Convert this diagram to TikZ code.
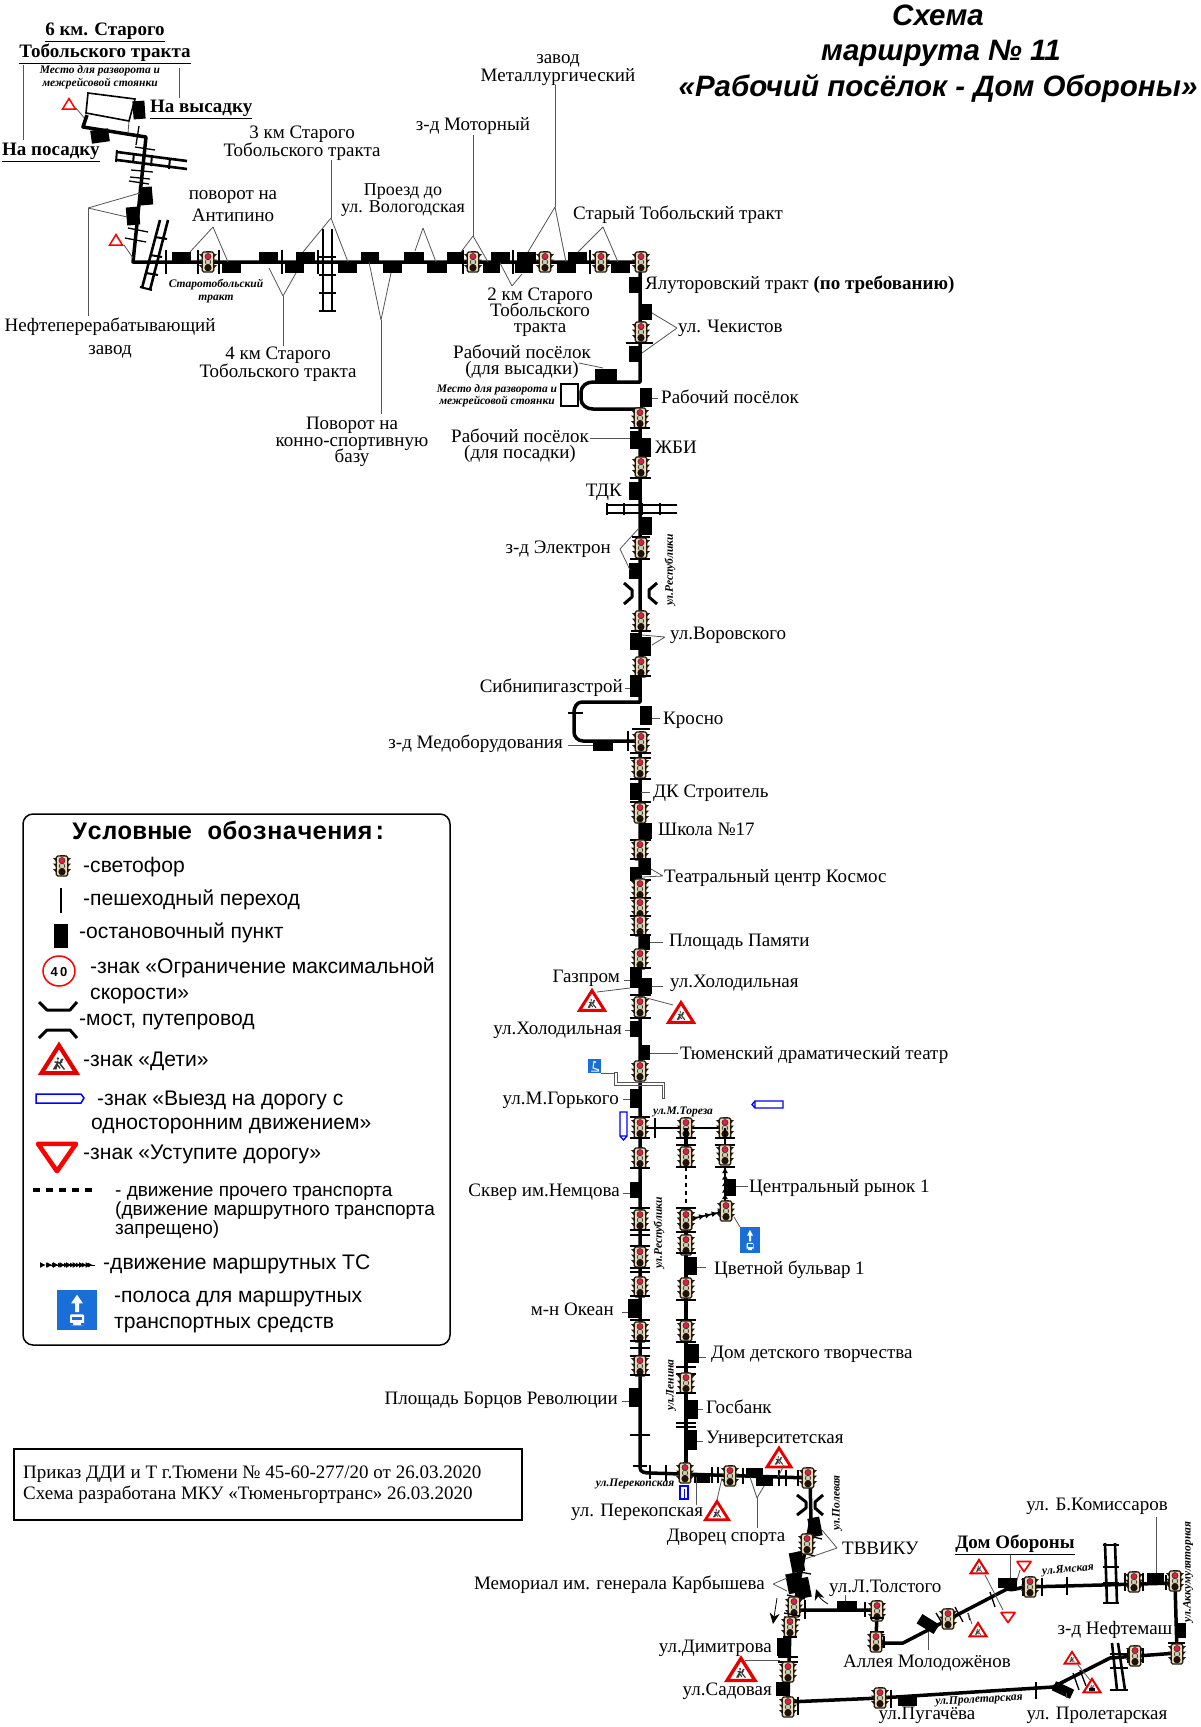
\documentclass[tikz,border=0pt]{standalone}
\usepackage{fontspec}
\setmainfont{Liberation Serif}
\setsansfont{Liberation Sans}
\setmonofont{Liberation Mono}
\usetikzlibrary{arrows.meta,decorations.markings,calc}
\definecolor{tlbody}{HTML}{E9DABA}
\definecolor{tldark}{HTML}{221A0E}
\definecolor{tlred}{HTML}{D82048}
\definecolor{tlmid}{HTML}{C4CCB4}
\definecolor{signblue}{HTML}{1A6ED8}
\definecolor{leadgray}{HTML}{555555}
\newcounter{lbl}
\newcommand\LB[5][lab]{\stepcounter{lbl}\node[#1,anchor=#2] (t\arabic{lbl}) at (#3,#4) {#5};}
\newcommand\RT[4][90]{\stepcounter{lbl}\node[smi,rotate=#1] (t\arabic{lbl}) at (#2,#3) {#4};}
\newcommand\TL[2]{\pic at (#1,#2) {tlight};}
\newcommand\ST[4]{\fill[black] (#1,#2) rectangle (#3,#4);}
\newcommand\RS[5]{\fill[black,shift={(#1,#2)},rotate=#5] (-#3/2,-#4/2) rectangle (#3/2,#4/2);}
\newcommand\HP[3]{\draw[ped] (#1,#3) -- (#2,#3);}
\newcommand\VP[3]{\draw[ped] (#1,#2) -- (#1,#3);}
\newcommand\LN[4]{\draw[lead] (#1,#2) -- (#3,#4);}
\newcommand\VEE[6]{\draw[lead] (#1,#2) -- (#3,#4) (#1,#2) -- (#5,#6);}
\newcommand\KIDS[3]{\begin{scope}[shift={(#1,#2)},scale=#3/24]
 \filldraw[fill=white,draw=red!90!black,line width=#3*0.12pt,line join=miter] (-12,9) -- (0,-10) -- (12,9) -- cycle;
 \begin{scope}[shift={(0,2)},scale=.75]
 \draw[black!80,line width=#3*0.04pt] (-5,6) -- (-2,1) -- (1,5) (-2,1) -- (-1,-2) (-4,-1) -- (0,0) -- (3,-1) (1,1) -- (5,6) (1,1) -- (2,-3) (-1,-2) -- (-3,6);
 \fill[black!80] (-1,-4) circle (1.2) (3,-3) circle (1.2);
 \end{scope}
\end{scope}}
\newcommand\YLD[3]{\draw[red,line width=#3*0.12pt,fill=white,line join=round] (#1-#3/2,#2-#3*.32) -- (#1+#3/2,#2-#3*.32) -- (#1,#2+#3*.4) -- cycle;}
\newcommand\WARN[3]{\draw[red,line width=1.5pt,fill=white] (#1-#3/2,#2+#3*.4) -- (#1+#3/2,#2+#3*.4) -- (#1,#2-#3*.42) -- cycle;}
\newcommand\BUS[4]{\begin{scope}[shift={(#1,#2)},xscale=#3,yscale=#4]
 \fill[signblue] (-20,-18) rectangle (20,18);
 \fill[white] (0,-14) -- (6,-6) -- (2,-6) -- (2,2) -- (-2,2) -- (-2,-6) -- (-6,-6) -- cycle;
 \fill[white,rounded corners=1pt] (-7,4) rectangle (7,14);
 \fill[signblue] (-5,6) rectangle (5,9.5);
 \fill[signblue] (-7,12) rectangle (-4,14) (4,12) rectangle (7,14);
\end{scope}}
\tikzset{x=1pt,y=-1pt,
 lab/.style={font=\fontsize{19}{19}\selectfont,inner sep=0pt,yshift=-3pt},
 labb/.style={font=\fontsize{19}{19}\selectfont\bfseries,inner sep=0pt,yshift=-3pt},
 smi/.style={font=\fontsize{11.5}{12}\selectfont\bfseries\itshape,inner sep=0pt},
 leg/.style={font=\sffamily\fontsize{21.1}{21}\selectfont,inner sep=0pt,yshift=-3pt},
 legs/.style={font=\sffamily\fontsize{19}{19}\selectfont,inner sep=0pt,yshift=-3pt},
 ttl/.style={font=\sffamily\fontsize{29.5}{30}\selectfont\bfseries\itshape,inner sep=0pt,yshift=-6pt},
 route/.style={line width=3.5pt,black,line join=round},
 ped/.style={line width=1.3pt,black},
 lead/.style={line width=.8pt,leadgray},
 rail/.style={line width=2.6pt,black},
 bridge/.style={line width=3pt,black,line join=round},
 busway/.style={line width=1.6pt,black,postaction={decorate},decoration={markings,mark=between positions 0 and 1 step 6.5pt with {\arrow{Latex[length=6pt,width=6pt]}}}},
 tlight/.pic={
  \fill[tldark] (-9,-8) -- (-5,-8) -- (-5,-3.5) -- cycle (9,-8) -- (5,-8) -- (5,-3.5) -- cycle
    (-9,-2.5) -- (-5,-2.5) -- (-5,2) -- cycle (9,-2.5) -- (5,-2.5) -- (5,2) -- cycle
    (-9,3) -- (-5,3) -- (-5,7.5) -- cycle (9,3) -- (5,3) -- (5,7.5) -- cycle;
  \fill[tldark] (-2.5,-11.5) rectangle (2.5,-9);
  \filldraw[fill=tlbody,draw=tldark,line width=1.2pt,rounded corners=1.5pt] (-5.7,-10) rectangle (5.7,10);
  \filldraw[fill=tlred,draw=tldark,line width=.4pt] (0,-5.5) circle (3.1);
  \filldraw[fill=tlmid,draw=tldark,line width=.5pt] (0,0) circle (2.8);
  \fill[black!85!brown] (0,5.8) circle (3.6);
 }}
\begin{document}
\begin{tikzpicture}
\useasboundingbox (0,0) rectangle (1200,1727);
\fill[white] (0,0) rectangle (1200,1727);
% ---- title
\LB[ttl]{mid}{938}{17}{Схема}
\LB[ttl]{mid}{941}{52}{маршрута № 11}
\LB[ttl]{mid}{938}{88}{«Рабочий посёлок - Дом Обороны»}
% ---- head of the route
\LB[labb]{mid}{105}{30}{\underline{6 км. Старого}}
\LB[labb]{mid}{105}{52}{\underline{Тобольского тракта}}
\LB[smi]{mid}{100}{71}{Место для разворота и}
\LB[smi]{mid}{100}{84}{межрейсовой стоянки}
\LB[labb]{mid west}{150}{107}{\underline{На высадку}}
\LB[labb]{mid west}{2}{150}{\underline{На посадку}}
\LN{23}{65}{23}{140}
\LN{179}{68}{179}{98}
\WARN{69}{104}{13}
\LN{76}{108}{86}{120}
\draw[line width=1.6pt,fill=white] (88,93) -- (135,99) -- (129,121) -- (86,113) -- cycle;
\draw[route] (87,115) -- (83,127) -- (146,137) -- (133,262) -- (640,262) -- (640,382) -- (593,382) to[out=180,in=90] (581,392) -- (581,399) to[out=270,in=180] (593,409) -- (640,409) -- (640,702) -- (582,702) to[out=180,in=90] (574,712) -- (574,732) to[out=270,in=180] (583,741) -- (640,741) -- (640,1468) to[out=270,in=180] (650,1473) -- (810,1478) -- (811,1520) -- (795,1603) -- (790,1627) -- (788,1702) -- (880,1698) -- (1053,1687) -- (1110,1658) -- (1177,1653) -- (1175,1583) -- (1027,1587) to[out=180,in=-15] (1007,1589) -- (903,1643) -- (876,1643) -- (877,1610) -- (797,1610);
\LN{129}{121}{128}{133}
\RS{100}{136}{18}{13}{8}
\RS{139}{110}{12}{18}{4}
\draw[ped] (139,126) -- (136,145);
\draw[rail] (117,152) -- (187,161) (117,160) -- (187,169);
\draw[ped,line width=2pt] (117,150) -- (116,162) (134,153) -- (133,163) (152,155) -- (151,166) (170,158) -- (169,169);
\draw[ped] (135,147) -- (155,150) (131,170) -- (153,172) (130,177) -- (150,179) (129,181) -- (149,184);
\RS{146}{196}{13}{18}{5}
\RS{133}{216}{13}{18}{5}
\draw[ped] (128,228) -- (148,232) (125,238) -- (146,242);
\WARN{116}{240}{13}
\LN{124}{245}{133}{258}
\draw[rail] (142,288) -- (160,220) (150,290) -- (168,220);
\draw[ped,line width=2pt] (140,287) -- (152,290) (146,273) -- (158,275) (150,255) -- (162,257) (155,237) -- (167,239);
\draw[rail] (323,229) -- (323,311) (332,229) -- (332,311);
\foreach \yy in {257,275,293,311}{\draw[ped,line width=2pt] (319,\yy) -- (336,\yy);}
\VP{166}{250}{274}\VP{198}{250}{274}\VP{219}{250}{274}\VP{282}{250}{274}\VP{318}{250}{274}\VP{463}{250}{274}\VP{513}{250}{274}\VP{590}{250}{274}
\ST{172}{252}{191}{262}\ST{259}{252}{278}{262}\ST{296}{252}{315}{262}\ST{361}{252}{379}{262}\ST{404}{252}{424}{262}\ST{447}{252}{463}{262}\ST{491}{252}{510}{262}\ST{517}{252}{536}{262}\ST{568}{252}{587}{262}
\ST{222}{262}{241}{273}\ST{285}{262}{304}{273}\ST{338}{262}{357}{273}\ST{383}{262}{402}{273}\ST{427}{262}{447}{273}\ST{483}{262}{500}{273}\ST{515}{262}{533}{273}\ST{557}{262}{576}{273}\ST{611}{262}{630}{273}
\TL{208}{262}\TL{473}{262}\TL{545}{262}\TL{601}{262}\TL{641}{262}
% labels on the tract
\LB{mid}{233}{194}{поворот на}\LB{mid}{233}{216}{Антипино}
\VEE{213}{227}{190}{252}{228}{262}
\LB{mid}{302}{133}{3 км Старого}\LB{mid}{302}{151}{Тобольского тракта}
\LN{331}{160}{331}{218}\VEE{331}{218}{303}{252}{348}{262}
\LB{mid}{110}{326}{Нефтеперерабатывающий}\LB{mid}{110}{349}{завод}
\LN{88}{208}{88}{316}\VEE{88}{208}{140}{193}{127}{217}
\LB{mid}{278}{354}{4 км Старого}\LB{mid}{278}{372}{Тобольского тракта}
\LN{283}{296}{283}{346}\VEE{283}{296}{269}{268}{296}{273}
\LB{mid}{352}{424}{Поворот на}\LB{mid}{352}{441}{конно-спортивную}\LB{mid}{352}{457}{базу}
\LN{381}{320}{381}{414}\VEE{381}{320}{369}{262}{391}{273}
\LB[lab,font=\fontsize{18}{18}\selectfont]{mid}{403}{190}{Проезд до}\LB[lab,font=\fontsize{18}{18}\selectfont]{mid}{403}{207}{ул. Вологодская}
\VEE{423}{228}{415}{251}{436}{262}
\LB{mid}{473}{125}{з-д Моторный}
\LN{473}{135}{473}{236}\VEE{473}{236}{461}{252}{488}{262}
\LB{mid}{558}{58}{завод}\LB{mid}{558}{76}{Металлургический}
\LN{555}{85}{555}{207}\VEE{555}{207}{528}{252}{566}{262}
\LB{mid}{678}{214}{Старый Тобольский тракт}
\VEE{603}{227}{578}{252}{618}{262}
\LB{mid}{540}{295}{2 км Старого}\LB{mid}{540}{311}{Тобольского}\LB{mid}{540}{327}{тракта}
\VEE{512}{286}{500}{263}{522}{274}
\LB[smi]{mid}{216}{285}{Старотобольский}\LB[smi]{mid}{216}{298}{тракт}
% ---- main vertical
\ST{629}{277}{640}{293}
\LB{mid west}{645}{284}{Ялуторовский тракт \textbf{(по требованию)}}
\ST{640}{304}{652}{320}\TL{641}{332}\HP{626}{653}{343}\ST{629}{346}{640}{362}
\LB{mid west}{678}{327}{ул. Чекистов}
\VEE{677}{328}{652}{313}{642}{353}
\ST{595}{369}{617}{382}
\LB{mid}{522}{353}{Рабочий посёлок}\LB{mid}{522}{369}{(для высадки)}
\LN{579}{363}{603}{368}
\draw[line width=1.1pt,fill=white] (561,384) rectangle (578,406);
\LB[smi]{mid}{497}{390}{Место для разворота и}\LB[smi]{mid}{497}{402}{межрейсовой стоянки}
\ST{640}{388}{652}{407}\LN{652}{398}{658}{398}
\LB{mid west}{661}{398}{Рабочий посёлок}
\TL{640}{418}\HP{630}{650}{428}
\ST{630}{431}{641}{449}\ST{641}{438}{651}{457}
\LB{mid}{520}{437}{Рабочий посёлок}\LB{mid}{520}{453}{(для посадки)}
\LN{590}{438}{630}{438}
\LB{mid west}{655}{448}{ЖБИ}
\TL{641}{467}\HP{630}{651}{478}\ST{629}{482}{640}{500}
\LB{mid east}{622}{491}{ТДК}
\draw[rail] (607,505) -- (677,505) (607,513) -- (677,513);
\foreach \xx in {607,624,642,660}{\draw[ped,line width=2pt] (\xx,503) -- (\xx,515);}
\ST{640}{517}{652}{535}\HP{632}{650}{537}\TL{641}{548}\HP{630}{650}{559}\ST{629}{563}{640}{579}
\LB{mid east}{611}{548}{з-д Электрон}
\VEE{620}{549}{639}{528}{630}{570}
\draw[bridge] (624,583) -- (632,590) -- (632,597) -- (624,604) (657,583) -- (649,590) -- (649,597) -- (657,604);
\RT{670}{570}{ул.Республики}
\TL{641}{621}\HP{631}{651}{631}\ST{630}{633}{642}{650}\ST{640}{637}{651}{656}
\LB{mid west}{670}{634}{ул.Воровского}
\VEE{665}{637}{642}{635}{652}{645}
\TL{641}{667}\HP{630}{651}{676}\ST{630}{677}{641}{697}
\LB{mid east}{623}{687}{Сибнипигазстрой}\LN{625}{688}{630}{688}
\HP{568}{583}{713}\VP{628}{731}{751}
\ST{640}{706}{652}{725}\LN{652}{718}{660}{718}\HP{632}{650}{729}
\LB{mid west}{663}{719}{Кросно}
\TL{641}{742}\HP{630}{651}{753}\HP{630}{651}{758}
\ST{593}{740}{613}{751}
\LB{mid east}{563}{743}{з-д Медоборудования}\LN{568}{745}{593}{745}
\TL{640}{768}\HP{630}{651}{779}\ST{630}{783}{641}{800}\LN{641}{792}{650}{792}
\LB{mid west}{653}{792}{ДК Строитель}
\HP{630}{651}{802}\TL{640}{813}\ST{640}{823}{652}{839}
\LB{mid west}{658}{830}{Школа №17}
\HP{630}{651}{840}\TL{640}{850}\HP{630}{651}{859}\ST{640}{859}{651}{875}\ST{630}{867}{641}{880}
\LB{mid west}{664}{877}{Театральный центр Космос}
\VEE{663}{876}{651}{869}{642}{877}
\HP{630}{651}{880}\TL{640}{889}\HP{630}{651}{898}\TL{640}{908}\HP{630}{651}{916}\TL{640}{926}\HP{630}{651}{935}
\ST{640}{935}{650}{950}\LN{650}{942}{663}{942}
\LB{mid west}{669}{941}{Площадь Памяти}
\TL{640}{959}\HP{630}{651}{968}\ST{630}{968}{641}{988}\ST{640}{978}{652}{994}
\LB{mid east}{620}{977}{Газпром}\LN{624}{980}{630}{980}
\LB{mid west}{670}{982}{ул.Холодильная}\LN{652}{986}{663}{986}
\KIDS{592}{1001}{25}\LN{597}{992}{630}{988}
\KIDS{681}{1013}{25}\LN{673}{1005}{643}{997}
\HP{630}{651}{995}\TL{640}{1007}\HP{630}{651}{1018}\ST{630}{1021}{641}{1037}
\LB{mid east}{622}{1029}{ул.Холодильная}\LN{625}{1030}{630}{1030}
\ST{640}{1045}{650}{1060}\LN{650}{1053}{678}{1053}
\LB{mid west}{680}{1054}{Тюменский драматический театр}
\TL{640}{1071}
\fill[signblue] (588,1059) rectangle (601,1073);
\draw[white,line width=1pt] (594,1061) -- (593,1068) -- (599,1070) (591,1071) -- (599,1071);
\fill[white] (595,1062) circle (1.2);
\LN{601}{1073}{614}{1073}
\draw[leadgray,line width=.7pt] (614,1072) -- (617,1072) -- (617,1082) -- (664,1082) -- (664,1098) -- (662,1098) -- (662,1085) -- (614,1085) -- cycle;
\ST{630}{1089}{641}{1108}\LN{623}{1099}{630}{1099}
\LB{mid east}{619}{1099}{ул.М.Горького}
% ---- crossing M.Toreza
\draw[route,line width=2.4pt] (640,1128) -- (725,1128);
\VP{655}{1118}{1138}\HP{630}{650}{1117}
\draw[blue,line width=1.3pt,fill=white] (620,1112) rectangle (627,1136) (620,1136) -- (623.5,1140) -- (627,1136);
\LB[smi]{mid}{683}{1112}{ул.М.Тореза}
\draw[blue,line width=1.3pt,fill=white] (783,1101) rectangle (755,1108) (755,1101) -- (752,1104.5) -- (755,1108);
\TL{640}{1128}\TL{686}{1128}\TL{725}{1128}
\HP{630}{650}{1138}\TL{640}{1158}\HP{630}{650}{1168}
\ST{630}{1182}{641}{1198}\LN{623}{1193}{630}{1193}
\LB{mid east}{620}{1191}{Сквер им.Немцова}
\HP{630}{650}{1208}\TL{640}{1220}\HP{630}{650}{1230}\HP{630}{650}{1235}\HP{630}{650}{1246}\TL{640}{1257}\HP{630}{650}{1268}\HP{630}{650}{1272}\TL{640}{1287}\HP{630}{650}{1296}
\ST{628}{1299}{641}{1318}\LN{622}{1312}{628}{1312}
\LB{mid east}{614}{1310}{м-н Океан}
\HP{630}{650}{1320}\TL{640}{1332}\HP{630}{650}{1341}\HP{630}{650}{1348}\HP{630}{650}{1356}\TL{640}{1366}\HP{630}{650}{1375}
\ST{629}{1388}{641}{1407}\LN{622}{1401}{629}{1401}
\LB{mid east}{618}{1399}{Площадь Борцов Революции}
\HP{630}{650}{1435}\HP{633}{647}{1466}
\RT{659}{1233}{ул.Республики}
% ---- Lenina
\draw[route] (686,1128) -- (686,1167);
\draw[line width=2.4pt,dash pattern=on 4pt off 4pt] (686,1167) -- (686,1210);
\draw[route] (686,1210) -- (686,1475);
\HP{676}{696}{1138}\HP{676}{696}{1145}\TL{686}{1157}\HP{676}{696}{1167}\HP{676}{696}{1208}\TL{686}{1220}\HP{676}{696}{1232}\TL{686}{1245}\HP{676}{696}{1253}
\ST{685}{1257}{697}{1275}\LN{697}{1267}{706}{1267}
\LB{mid west}{714}{1269}{Цветной бульвар 1}
\TL{686}{1288}\HP{676}{696}{1300}\HP{676}{696}{1320}\TL{686}{1331}\HP{676}{696}{1342}
\ST{685}{1344}{699}{1363}\LN{699}{1357}{706}{1357}
\LB{mid west}{711}{1353}{Дом детского творчества}
\HP{676}{696}{1367}\HP{676}{696}{1374}\TL{686}{1383}\HP{676}{696}{1393}
\ST{685}{1400}{698}{1419}\LN{698}{1409}{703}{1409}
\LB{mid west}{706}{1408}{Госбанк}
\HP{676}{696}{1423}\HP{676}{696}{1427}
\ST{685}{1430}{697}{1450}\LN{697}{1441}{703}{1441}
\LB{mid west}{706}{1438}{Университетская}
\RT{671}{1385}{ул.Ленина}
% ---- third column
\draw[route,line width=2.4pt] (725,1128) -- (725,1155);
\HP{715}{735}{1138}\HP{715}{735}{1145}\TL{725}{1155}\HP{715}{735}{1167}
\ST{725}{1179}{736}{1196}\LN{736}{1186}{748}{1186}
\draw[busway] (725,1206) -- (725,1167);
\draw[busway] (686,1220) -- (726,1211);
\TL{726}{1211}\TL{686}{1220}
\LB{mid west}{749}{1187}{Центральный рынок 1}
\LN{734}{1217}{740}{1227}
\BUS{750}{1240}{.5}{.72}
% ---- Perekopskaya
\VP{650}{1465}{1479}\VP{666}{1465}{1481}
\TL{685}{1473}\ST{694}{1473}{710}{1483}\VP{712}{1467}{1483}\VP{718}{1467}{1483}\TL{730}{1476}\VP{743}{1468}{1484}
\ST{746}{1468}{763}{1477}\ST{756}{1477}{773}{1486}\VP{779}{1470}{1486}\VP{786}{1470}{1486}\VP{798}{1470}{1486}\TL{808}{1478}
\LB[smi]{mid}{635}{1484}{ул.Перекопская}
\draw[blue,line width=1.2pt,fill=white] (680,1486) rectangle (688,1499);
\draw[blue,line width=1pt] (684,1489) -- (684,1499);
\LB{mid west}{571}{1511}{ул. Перекопская}
\KIDS{717}{1511}{23}\LN{696}{1477}{696}{1505}\LN{722}{1478}{717}{1500}
\LB{mid}{726}{1536}{Дворец спорта}
\LN{757}{1498}{757}{1528}\VEE{757}{1498}{750}{1477}{764}{1486}
\KIDS{779}{1458}{24}\LN{784}{1465}{778}{1477}
\RT{837}{1503}{ул.Полевая}
\draw[bridge] (797,1495) -- (806,1502) -- (806,1508) -- (797,1515) (823,1495) -- (815,1502) -- (815,1508) -- (823,1515);
\RS{815}{1527}{12}{19}{11}
\draw[ped] (805,1535) -- (822,1539) (798,1552) -- (815,1556) (800,1572) -- (811,1574) (787,1595) -- (805,1599);
\TL{807}{1544}
\RS{797}{1562}{13}{20}{11}\RS{794}{1583}{14}{20}{11}\RS{803}{1588}{14}{20}{11}
\LB{mid east}{765}{1584}{Мемориал им. генерала Карбышева}
\VEE{773}{1584}{787}{1578}{787}{1591}
\LB{mid west}{842}{1549}{ТВВИКУ}
\VEE{837}{1548}{822}{1530}{805}{1559}
\TL{794}{1607}
\draw[ped] (784,1613) -- (800,1616) (784,1617) -- (800,1620);
\TL{790}{1627}\HP{783}{797}{1637}\ST{777}{1638}{790}{1656}\HP{778}{798}{1657}\HP{778}{798}{1662}\TL{788}{1672}\ST{776}{1682}{790}{1696}\TL{788}{1707}\VP{798}{1697}{1715}
\LB{mid east}{772}{1647}{ул.Димитрова}
\LB{mid east}{772}{1690}{ул.Садовая}
\KIDS{741}{1670}{28}\LN{745}{1660}{780}{1660}
\draw[line width=.8pt,-{Stealth[length=11pt,width=10pt]}] (777,1598) -- (773,1624);
\draw[line width=.8pt,-{Stealth[length=11pt,width=10pt]}] (828,1604) to[bend left=20] (816,1589);
% ---- Tolstogo / Molodozhenov / Yamskaya
\VP{805}{1600}{1619}\VP{865}{1602}{1617}
\ST{837}{1601}{857}{1611}\LN{845}{1595}{845}{1601}
\TL{877}{1611}\HP{870}{884}{1618}\HP{870}{884}{1632}\TL{876}{1642}\VP{884}{1636}{1648}
\LB{mid west}{829}{1587}{ул.Л.Толстого}
\LB{mid west}{843}{1662}{Аллея Молодожёнов}
\LN{928}{1632}{928}{1650}
\RS{928}{1624}{20}{11}{-32}
\draw[ped] (936,1613) -- (945,1628) (941,1611) -- (950,1626) (955,1607) -- (963,1622) (968,1613) -- (970,1620) (990,1592) -- (995,1607);
\TL{948}{1619}
\KIDS{978}{1630}{17}\LN{968}{1613}{972}{1624}
\KIDS{979}{1567}{17}\LN{985}{1575}{1003}{1610}
\YLD{1008}{1617}{14}\YLD{1024}{1566}{14}
\LN{1015}{1587}{1020}{1570}
\ST{998}{1578}{1017}{1588}\LN{1010}{1554}{1010}{1578}
\LB[labb]{mid}{1015}{1543}{\underline{Дом Обороны}}
\VP{1023}{1578}{1596}\TL{1030}{1587}\VP{1042}{1578}{1596}\VP{1067}{1577}{1595}
\RT[5]{1068}{1570}{ул.Ямская}
\draw[rail] (1105,1543) -- (1107,1603) (1115,1543) -- (1117,1603);
\foreach \yy in {1545,1567,1583,1603}{\draw[ped,line width=2pt] (1103,\yy) -- (1119,\yy);}
\VP{1125}{1573}{1591}\TL{1134}{1582}\VP{1143}{1573}{1591}
\ST{1147}{1573}{1164}{1583}\LN{1156}{1517}{1156}{1573}
\VP{1166}{1575}{1590}\TL{1175}{1581}
\LB{mid}{1097}{1505}{ул. Б.Комиссаров}
\RT{1188}{1572}{ул.Аккумуляторная}
\ST{1176}{1623}{1186}{1638}
\LB{mid}{1115}{1629}{з-д Нефтемаш}
\HP{1168}{1185}{1643}\TL{1177}{1654}
\VP{1128}{1648}{1663}\TL{1135}{1656}\VP{1143}{1648}{1663}
\draw[rail] (1112,1643) -- (1117,1690) (1118,1643) -- (1125,1690);
\foreach \yy in {1654,1668,1690}{\draw[ped,line width=2pt] (1110,\yy) -- (1128,\yy);}
\RS{1063}{1690}{20}{10}{-25}
\draw[ped] (1073,1673) -- (1079,1690) (1080,1670) -- (1086,1686);
\VP{1036}{1682}{1699}
\KIDS{1072}{1658}{15}\LN{1078}{1665}{1090}{1680}
\KIDS{1092}{1686}{17}
\fill[black] (1089,1688) rectangle (1095,1691);
\LN{1066}{1693}{1066}{1698}
\VP{879}{1690}{1708}\TL{880}{1698}\VP{891}{1690}{1708}
\ST{898}{1697}{917}{1706}
\RT[3]{979}{1700}{ул.Пролетарская}
\LB{mid}{927}{1714}{ул.Пугачёва}
\LB{mid}{1097}{1714}{ул. Пролетарская}
% ---- legend
\draw[line width=1.5pt,rounded corners=10pt] (23,814) rectangle (450,1345);
\LB[lab,font=\ttfamily\bfseries\fontsize{25}{25}\selectfont]{mid}{230}{834}{Условные обозначения:}
\begin{scope}[shift={(62,866)},scale=1.3]\pic {tlight};\end{scope}
\LB[leg]{mid west}{83}{867}{-светофор}
\draw[ped] (61,888) -- (61,913);
\LB[leg]{mid west}{83}{900}{-пешеходный переход}
\ST{54}{924}{68}{948}
\LB[leg]{mid west}{79}{933}{-остановочный пункт}
\draw[red,line width=1.5pt] (59,971) ellipse (16 and 15);
\LB[lab,font=\sffamily\bfseries\fontsize{13}{13}\selectfont]{mid}{59}{971}{4\,0}
\LB[leg]{mid west}{90}{968}{-знак «Ограничение максимальной}
\LB[leg]{mid west}{90}{994}{скорости»}
\draw[bridge] (39,1002) -- (47,1010) -- (70,1010) -- (77,1002) (39,1038) -- (47,1030) -- (70,1030) -- (77,1038);
\LB[leg]{mid west}{79}{1020}{-мост, путепровод}
\KIDS{59}{1060}{35}
\LB[leg]{mid west}{83}{1061}{-знак «Дети»}
\draw[blue,line width=1.5pt,fill=white] (36,1094) -- (81,1094) -- (84,1098) -- (81,1103) -- (36,1103) -- cycle;
\LB[leg]{mid west}{97}{1100}{-знак «Выезд на дорогу с}
\LB[leg]{mid west}{91}{1124}{односторонним движением»}
\YLD{57}{1156}{38}
\LB[leg]{mid west}{83}{1154}{-знак «Уступите дорогу»}
\draw[line width=3.5pt,dash pattern=on 7pt off 6pt] (33,1190) -- (96,1190);
\LB[legs]{mid west}{115}{1191}{- движение прочего транспорта}
\LB[legs]{mid west}{115}{1210}{(движение маршрутного транспорта}
\LB[legs]{mid west}{115}{1229}{запрещено)}
\draw[busway,line width=1pt,decoration={markings,mark=between positions 5pt and 1 step 6pt with {\arrow{Latex[length=5pt,width=5pt]}}}] (46,1265) -- (95,1265);
\LB[leg]{mid west}{103}{1264}{-движение маршрутных ТС}
\BUS{77}{1310}{1}{1.09}
\LB[leg]{mid west}{114}{1297}{-полоса для маршрутных}
\LB[leg]{mid west}{114}{1323}{транспортных средств}
% ---- order box
\draw[line width=1.3pt] (14,1449) rectangle (522,1520);
\LB{mid west}{23}{1473}{Приказ ДДИ и Т г.Тюмени № 45-60-277/20 от 26.03.2020}
\LB{mid west}{23}{1494}{Схема разработана МКУ «Тюменьгортранс» 26.03.2020}
\end{tikzpicture}
\end{document}
